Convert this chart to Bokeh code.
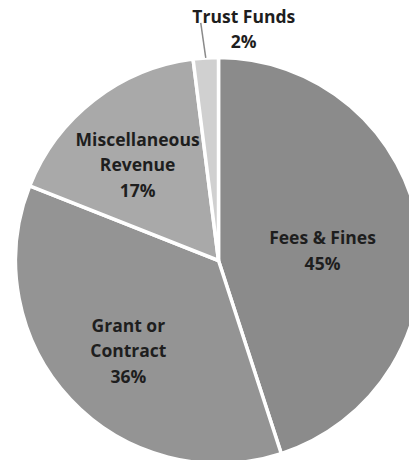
import math
from bokeh.plotting import figure
from bokeh.models import Range1d, ColumnDataSource
from bokeh.core.properties import value
from bokeh.embed import file_html
from bokeh.resources import INLINE

categories = ["Fees & Fines", "Grant or Contract", "Miscellaneous Revenue", "Trust Funds"]
label_lines = [["Fees & Fines"], ["Grant or", "Contract"], ["Miscellaneous", "Revenue"], ["Trust Funds"]]
percents = [45, 36, 17, 2]

colors = ["#8b8b8b", "#949494", "#a9a9a9", "#d0d0d0"]
label_frac = [0.515, 0.626, 0.62, None]
label_turn_deg = [-3.2, 1.6, 2.2, 0]

W, H = 409, 460
p = figure(width=W, height=H, output_backend="svg", toolbar_location=None,
           x_range=Range1d(0, W), y_range=Range1d(0, H), min_border=0)
p.axis.visible = False
p.grid.visible = False
p.outline_line_color = None
p.background_fill_color = "white"
p.border_fill_color = "white"

cx, cy, R = 218, 200, 203
total = sum(percents)
start = math.pi / 2
starts, ends = [], []
for v in percents:
    a = 2 * math.pi * v / total
    ends.append(start)
    starts.append(start - a)
    start -= a

src = ColumnDataSource(dict(start=starts, end=ends, color=colors, cat=categories))
p.wedge(x=cx, y=cy, radius=R, start_angle="start", end_angle="end",
        fill_color="color", line_color="white", line_width=3.5, source=src)

fs = 17.5
lh = 25.5
for i, cat in enumerate(categories):
    mid = (starts[i] + ends[i]) / 2
    lines = label_lines[i] + [f"{percents[i]}%"]
    if label_frac[i] is not None:
        ang = mid + math.radians(label_turn_deg[i])
        lx = cx + R * label_frac[i] * math.cos(ang)
        ly = cy + R * label_frac[i] * math.sin(ang)
    else:
        ex = cx + R * math.cos(mid)
        ey = cy + R * math.sin(mid)
        p.line([ex, ex - 5], [ey, ey + 35], line_color="#8a8a8a", line_width=1.5)
        lx = ex + 38
        ly = ey + 29.5
    n = len(lines)
    ys = [ly + (n - 1) * lh / 2 - k * lh for k in range(n)]
    p.text(x=[lx] * n, y=ys, text=lines, text_align="center", text_baseline="middle",
           text_font=value("Open Sans"), text_font_style="bold", text_font_size=f"{fs}px",
           text_color="#1e1e1e")

open("out.html", "w").write(file_html(p, INLINE))
